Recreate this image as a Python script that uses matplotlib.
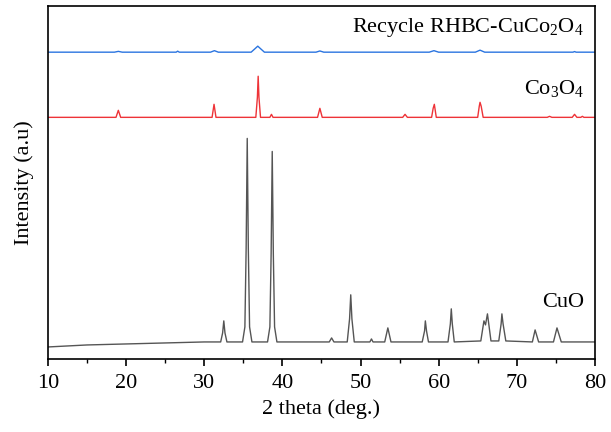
import matplotlib
matplotlib.use('Agg')
import matplotlib.pyplot as plt
from matplotlib.ticker import MultipleLocator

plt.rcParams['font.family'] = 'Liberation Serif'
plt.rcParams['mathtext.fontset'] = 'custom'
plt.rcParams['mathtext.rm'] = 'Liberation Serif'
plt.rcParams['font.size'] = 16

# CuO pattern (2 theta, intensity a.u.)
cuo_x = [10, 15, 20, 25, 30, 32.1, 32.35, 32.5, 32.65, 32.9,
         34.9, 35.2, 35.36, 35.5, 35.64, 35.8, 36.1,
         38.1, 38.4, 38.56, 38.7, 38.84, 39.0, 39.3,
         46.0, 46.3, 46.6, 48.3, 48.6, 48.75, 48.9, 49.2,
         51.2, 51.4, 51.6, 53.1, 53.5, 53.9, 57.9, 58.2, 58.3, 58.45, 58.7,
         61.2, 61.5, 61.62, 61.75, 62.0, 65.4, 65.8, 66.0, 66.25, 66.7,
         67.7, 68.0, 68.1, 68.25, 68.6, 72.0, 72.35, 72.8, 74.7, 75.15, 75.7, 80]
cuo_y = [12, 14, 15, 16, 17, 17, 26, 38, 26, 17,
         17, 32, 110, 220, 110, 32, 17,
         17, 32, 105, 207, 105, 32, 17,
         17, 21, 17, 17, 40, 64, 40, 17,
         17, 20, 17, 17, 31, 17, 17, 28, 38, 28, 17,
         17, 35, 50, 35, 17, 18, 38, 34, 45, 18,
         18, 35, 45, 35, 18, 17, 29, 17, 17, 31, 17, 17]

# Co3O4 pattern
co3o4_x = [10, 18.7, 19.0, 19.3, 31.0, 31.25, 31.5, 36.6, 36.8, 36.9, 37.0, 37.2,
           38.4, 38.6, 38.8, 44.5, 44.8, 45.1, 55.4, 55.7, 56.0, 59.1, 59.3, 59.45, 59.7,
           65.0, 65.2, 65.3, 65.45, 65.7, 73.9, 74.2, 74.5, 77.1, 77.4, 77.7, 78.2, 78.4, 78.6, 80]
co3o4_y = [5, 5, 12, 5, 5, 18, 5, 5, 25, 46, 25, 5,
           5, 8, 5, 5, 14, 5, 5, 8, 5, 5, 14, 18, 5,
           5, 16, 20, 16, 5, 5, 6, 5, 5, 8, 5, 5, 6, 5, 5]

# recycled RHBC-CuCo2O4 pattern
rhbc_x = [10, 18.5, 19.0, 19.5, 26.4, 26.6, 26.8, 30.8, 31.3, 31.8, 36.0, 36.5, 36.85, 37.2, 37.7,
          44.3, 44.8, 45.3, 58.8, 59.4, 60.0, 64.7, 65.3, 65.9, 77.2, 77.4, 77.6, 80]
rhbc_y = [5, 5, 5.8, 5, 5, 6, 5, 5, 6.5, 5, 5, 8.5, 11, 8.5, 5,
          5, 6.2, 5, 5, 6.5, 5, 5, 7, 5, 5, 5.6, 5, 5]

offsets = [0, 236, 301]
labels = ['CuO', 'Co$_\\mathregular{3}$O$_\\mathregular{4}$',
          'Recycle RHBC-CuCo$_\\mathregular{2}$O$_\\mathregular{4}$']
label_y = [56, 269, 331]
colors = ['#555555', '#ee3338', '#2a74e0']

fig = plt.figure(figsize=(6.11, 4.32), dpi=100)
ax = fig.add_axes([0.0786, 0.169, 0.895, 0.817])

series = [(cuo_x, cuo_y), (co3o4_x, co3o4_y), (rhbc_x, rhbc_y)]
for (x, y), off, c, lab, ly in zip(series, offsets, colors, labels, label_y):
    ax.plot(x, [v + off for v in y], color=c, linewidth=1.0)
    ax.text(78.6, ly, lab, ha='right', va='center', fontsize=16)

ax.set_xlim(10, 80)
ax.set_ylim(0, 352)
ax.set_yticks([])
ax.xaxis.set_major_locator(MultipleLocator(10))
ax.xaxis.set_minor_locator(MultipleLocator(5))
ax.tick_params(axis='x', which='major', direction='out', length=5, width=1.2, labelsize=16, pad=6)
ax.tick_params(axis='x', which='minor', direction='out', length=3, width=1.0)
for s in ax.spines.values():
    s.set_linewidth(1.2)
ax.set_xlabel('2 theta (deg.)', fontsize=16, labelpad=4)
ax.set_ylabel('Intensity (a.u)', fontsize=16, labelpad=10)

fig.savefig('out.png', dpi=100)
